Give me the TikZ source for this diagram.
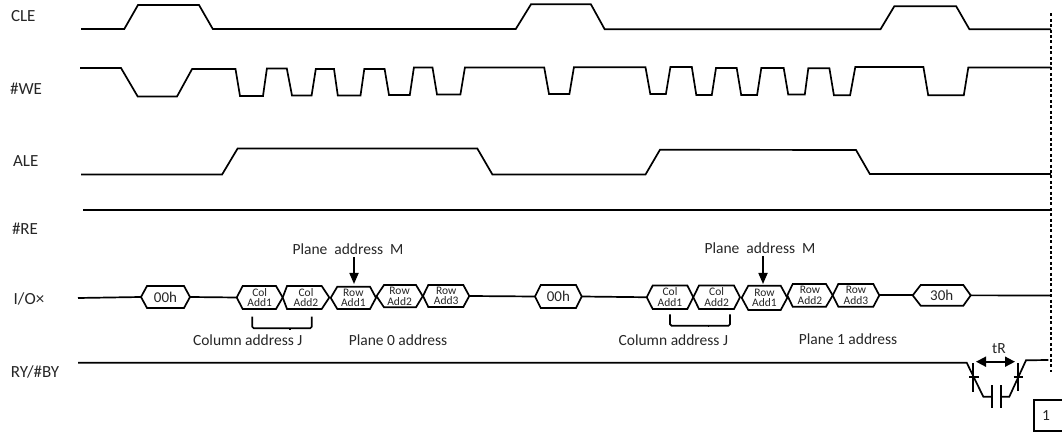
\documentclass[tikz,border=0pt]{standalone}
\usepackage{fontspec}
\setmainfont{Carlito}
\usetikzlibrary{arrows.meta}
\tikzset{
  x=1pt,y=-1pt,
  wave/.style={draw=black,line width=1.7pt,line join=miter},
  hexline/.style={draw=black,line width=1.7pt,fill=white,line join=miter},
  lbl/.style={inner sep=0pt,font=\fontsize{15.5}{17}\selectfont,text=black!85},
  siglbl/.style={inner sep=0pt,font=\fontsize{17}{19}\selectfont,text=black!85},
  hexbig/.style={inner sep=0pt,font=\fontsize{15}{17}\selectfont,text=black!85},
  hexsmall/.style={inner sep=0pt,align=center,font=\fontsize{11.5}{10.5}\selectfont,text=black!85},
  fat/.style={draw=black,line width=1.7pt,-{Triangle[length=11pt,width=9pt]}},
  fatboth/.style={draw=black,line width=1.7pt,{Triangle[length=10pt,width=10pt]}-{Triangle[length=10pt,width=10pt]}},
  thin/.style={draw=black,line width=1.7pt}
}
% name, left tip, left shoulder, right shoulder, right tip, top, bottom, style, text
\newcommand{\hexa}[9]{%
  \coordinate (#1-l) at (#2,{(#6+#7)/2});
  \coordinate (#1-r) at (#5,{(#6+#7)/2});
  \draw[hexline] (#2,{(#6+#7)/2}) -- (#3,#6) -- (#4,#6) -- (#5,{(#6+#7)/2}) -- (#4,#7) -- (#3,#7) -- cycle;
  \node[#8] (#1) at ({(#2+#5)/2},{(#6+#7)/2}) {#9};
}
\begin{document}
\begin{tikzpicture}
\useasboundingbox (0,0) rectangle (1062,435);
% labels
\node[siglbl] (lcle) at (23.3,16.5) {CLE};
\node[siglbl] (lwe) at (26,89) {\#WE};
\node[siglbl] (lale) at (25.7,160.7) {ALE};
\node[siglbl] (lre) at (25,229) {\#RE};
\node[siglbl] (lio) at (29,299) {I/O×};
\node[siglbl] (lry) at (35,371.5) {RY/\#BY};
% dotted
\coordinate (dt) at (1051,13.5);
\coordinate (db) at (1051,372);
\draw[draw=black,line width=1.9pt,dash pattern=on 3pt off 2.4pt] (dt) -- (db);
% CLE
\draw[wave] (81,29) -- (124.3,29) -- (138,5) -- (199,5) -- (212.8,29) -- (515.8,29) -- (531,4.3) -- (590.9,4.3) -- (604.7,29.3) -- (880.5,29.3) -- (894.3,6.3) -- (956.2,6.3) -- (969.4,29.3) -- (1051,29.3);
% WE
\draw[wave] (80,68) -- (121,68) -- (137.7,96.5) -- (177,96.5) -- (192.1,69) -- (235.5,69) -- (240,96) -- (263,96) -- (266.9,68.5) -- (286.8,68.5) -- (292,95.5) -- (311.6,95.5) -- (315.8,69) -- (334,69) -- (337.8,95.5) -- (360.5,95.5) -- (364.3,69) -- (384.6,69) -- (389,95) -- (409.8,95) -- (413.9,67.5) -- (432.5,67.5) -- (437,94.5) -- (460.4,94.5) -- (464.9,67.5) -- (544.2,67.5) -- (549,94) -- (569.4,94) -- (573.9,67.3) -- (645.5,67.3) -- (650.3,94) -- (665.9,94) -- (670.4,67) -- (691.8,67) -- (696.3,95) -- (711.8,95) -- (716,68) -- (736.7,68) -- (741.2,95) -- (757.1,95) -- (761.3,68) -- (783.7,68) -- (788.2,94.5) -- (804.8,94.5) -- (808.3,68.3) -- (829.4,68.3) -- (833.9,95.3) -- (850.1,95.3) -- (855.3,67) -- (923.4,67) -- (928.2,95.3) -- (963.8,95.3) -- (968.3,67.5) -- (1051,67.5);
% ALE
\draw[wave] (81,174.5) -- (222.1,174.5) -- (237.6,148.5) -- (477.3,148.5) -- (492.4,174.5) -- (645.5,174.5) -- (660,149.7) -- (856,150) -- (869.8,174) -- (1051,174);
% RE
\draw[wave] (83,210) -- (1051,210);
% IO hexes
\coordinate (iostart) at (78,298);
\coordinate (ioend) at (1051,295.5);
\hexa{a0}{141}{147}{184}{190}{286}{308}{hexbig}{00h}
\hexa{a1}{236.7}{242.7}{276}{282.7}{286}{309}{hexsmall}{Col\\Add1}
\hexa{a2}{282.7}{287}{321.7}{329.3}{286}{309}{hexsmall}{Col\\Add2}
\hexa{a3}{330.7}{337.3}{370}{376}{286.7}{309}{hexsmall}{Row\\Add1}
\hexa{a4}{376.5}{384}{416}{422.7}{285}{307.3}{hexsmall}{Row\\Add2}
\hexa{a5}{423}{428.3}{463.3}{469.3}{285}{307}{hexsmall}{Row\\Add3}
\hexa{b0}{535}{540.7}{576}{581.7}{285}{308}{hexbig}{00h}
\hexa{b1}{646.7}{652.7}{687.3}{693.3}{285.5}{309}{hexsmall}{Col\\Add1}
\hexa{b2}{693.3}{699}{734}{740}{285.5}{309}{hexsmall}{Col\\Add2}
\hexa{b3}{741.7}{748.3}{780.7}{787.3}{285.7}{310}{hexsmall}{Row\\Add1}
\hexa{b4}{787.3}{792.7}{826}{832.7}{284}{306.7}{hexsmall}{Row\\Add2}
\hexa{b5}{832.7}{838.3}{873.3}{879.3}{284}{306.7}{hexsmall}{Row\\Add3}
\hexa{c0}{912.7}{920.7}{963.3}{970.7}{285}{305.7}{hexbig}{30h}
\draw[thin] (iostart) -- (a0-l);
\draw[thin] (a0-r) -- (a1-l);
\draw[thin] (a5-r) -- (b0-l);
\draw[thin] (b0-r) -- (b1-l);
\draw[thin] (b5-r) -- (c0-l);
\draw[thin] (c0-r) -- (ioend);
% plane address
\node[lbl] (pm0) at (348,249.5) {Plane\ \ address\ \ M};
\node[lbl] (pm1) at (760,248) {Plane\ \ address\ \ M};
\coordinate (pa0) at (354,257.5);
\coordinate (pb0) at (354,284);
\coordinate (pa1) at (763,256);
\coordinate (pb1) at (763,284);
\draw[fat] (pa0) -- (pb0);
\draw[fat] (pa1) -- (pb1);
% brackets
\coordinate (j0l) at (252.3,316.7);
\coordinate (j0r) at (311.7,316.7);
\coordinate (j1l) at (670,314.3);
\coordinate (j1r) at (730,314.3);
\draw[thin,rounded corners=1.5pt] (j0l) -- (252.3,328.3) -- (311.7,328.3) -- (j0r);
\draw[thin] (290,328.3) -- (290,330);
\draw[thin,rounded corners=1.5pt] (j1l) -- (670,325.7) -- (730,325.7) -- (j1r);
\draw[thin] (708.5,325.7) -- (708.5,327.5);
\node[lbl] (cj0) at (247.7,340) {Column address J};
\node[lbl] (p0) at (398,340) {Plane 0 address};
\node[lbl] (cj1) at (673.3,340) {Column address J};
\node[lbl] (p1) at (848,339) {Plane 1 address};
% RY
\coordinate (rystart) at (78,362.7);
\coordinate (ryend) at (1048.3,360);
\draw[wave] (rystart) -- (966.7,362.7) -- (983.3,396.7) -- (992,396.7);
\draw[wave] (1001,396.7) -- (1009.3,396.7) -- (1026,360.3) -- (ryend);
\draw[thin] (992,385) -- (992,408.3);
\draw[thin] (1001,385) -- (1001,408.3);
\draw[thin] (973.3,363) -- (973.3,391.7);
\draw[thin] (969,376.7) -- (979,376.7);
\draw[thin] (1018.3,363) -- (1018.3,391);
\draw[thin] (1013.7,377) -- (1023,377);
\coordinate (tl) at (976,361.7);
\coordinate (tr) at (1015,361.7);
\draw[fatboth] (tl) -- (tr);
\node[lbl] (tR) at (999,349) {tR};
% box 1
\draw[thin] (1061.5,400) -- (1034.3,400) -- (1034.3,430.7) -- (1061.5,430.7);
\node[lbl] (one) at (1046,416) {1};
\end{tikzpicture}
\end{document}
